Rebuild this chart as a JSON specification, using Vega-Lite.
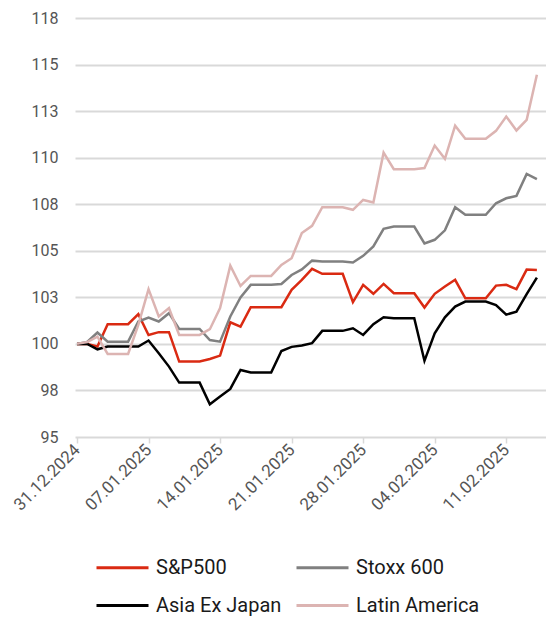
{
  "$schema": "https://vega.github.io/schema/vega-lite/v6.json",
  "width": 471,
  "height": 419,
  "autosize": {"type": "none"},
  "padding": {"left": 75, "top": 18, "right": 0, "bottom": 184},
  "background": "white",
  "config": {
    "view": {"stroke": null},
    "font": "Roboto"
  },
  "data": {"values": [
    {"date":"2024-12-31","series":"S&P500","value":100},
    {"date":"2025-01-01","series":"S&P500","value":100},
    {"date":"2025-01-02","series":"S&P500","value":99.86},
    {"date":"2025-01-03","series":"S&P500","value":101.06},
    {"date":"2025-01-04","series":"S&P500","value":101.06},
    {"date":"2025-01-05","series":"S&P500","value":101.06},
    {"date":"2025-01-06","series":"S&P500","value":101.6},
    {"date":"2025-01-07","series":"S&P500","value":100.48},
    {"date":"2025-01-08","series":"S&P500","value":100.63},
    {"date":"2025-01-09","series":"S&P500","value":100.63},
    {"date":"2025-01-10","series":"S&P500","value":99.05},
    {"date":"2025-01-11","series":"S&P500","value":99.05},
    {"date":"2025-01-12","series":"S&P500","value":99.05},
    {"date":"2025-01-13","series":"S&P500","value":99.19},
    {"date":"2025-01-14","series":"S&P500","value":99.37},
    {"date":"2025-01-15","series":"S&P500","value":101.16},
    {"date":"2025-01-16","series":"S&P500","value":100.93},
    {"date":"2025-01-17","series":"S&P500","value":101.97},
    {"date":"2025-01-18","series":"S&P500","value":101.97},
    {"date":"2025-01-19","series":"S&P500","value":101.97},
    {"date":"2025-01-20","series":"S&P500","value":101.97},
    {"date":"2025-01-21","series":"S&P500","value":102.9},
    {"date":"2025-01-22","series":"S&P500","value":103.44},
    {"date":"2025-01-23","series":"S&P500","value":104.03},
    {"date":"2025-01-24","series":"S&P500","value":103.76},
    {"date":"2025-01-25","series":"S&P500","value":103.76},
    {"date":"2025-01-26","series":"S&P500","value":103.76},
    {"date":"2025-01-27","series":"S&P500","value":102.24},
    {"date":"2025-01-28","series":"S&P500","value":103.17},
    {"date":"2025-01-29","series":"S&P500","value":102.69},
    {"date":"2025-01-30","series":"S&P500","value":103.22},
    {"date":"2025-01-31","series":"S&P500","value":102.72},
    {"date":"2025-02-01","series":"S&P500","value":102.72},
    {"date":"2025-02-02","series":"S&P500","value":102.72},
    {"date":"2025-02-03","series":"S&P500","value":101.95},
    {"date":"2025-02-04","series":"S&P500","value":102.69},
    {"date":"2025-02-05","series":"S&P500","value":103.08},
    {"date":"2025-02-06","series":"S&P500","value":103.44},
    {"date":"2025-02-07","series":"S&P500","value":102.45},
    {"date":"2025-02-08","series":"S&P500","value":102.45},
    {"date":"2025-02-09","series":"S&P500","value":102.45},
    {"date":"2025-02-10","series":"S&P500","value":103.13},
    {"date":"2025-02-11","series":"S&P500","value":103.17},
    {"date":"2025-02-12","series":"S&P500","value":102.94},
    {"date":"2025-02-13","series":"S&P500","value":103.99},
    {"date":"2025-02-14","series":"S&P500","value":103.97},

    {"date":"2024-12-31","series":"Stoxx 600","value":100},
    {"date":"2025-01-01","series":"Stoxx 600","value":100.1},
    {"date":"2025-01-02","series":"Stoxx 600","value":100.61},
    {"date":"2025-01-03","series":"Stoxx 600","value":100.12},
    {"date":"2025-01-04","series":"Stoxx 600","value":100.12},
    {"date":"2025-01-05","series":"Stoxx 600","value":100.12},
    {"date":"2025-01-06","series":"Stoxx 600","value":101.2},
    {"date":"2025-01-07","series":"Stoxx 600","value":101.41},
    {"date":"2025-01-08","series":"Stoxx 600","value":101.2},
    {"date":"2025-01-09","series":"Stoxx 600","value":101.65},
    {"date":"2025-01-10","series":"Stoxx 600","value":100.8},
    {"date":"2025-01-11","series":"Stoxx 600","value":100.8},
    {"date":"2025-01-12","series":"Stoxx 600","value":100.8},
    {"date":"2025-01-13","series":"Stoxx 600","value":100.21},
    {"date":"2025-01-14","series":"Stoxx 600","value":100.12},
    {"date":"2025-01-15","series":"Stoxx 600","value":101.47},
    {"date":"2025-01-16","series":"Stoxx 600","value":102.49},
    {"date":"2025-01-17","series":"Stoxx 600","value":103.17},
    {"date":"2025-01-18","series":"Stoxx 600","value":103.17},
    {"date":"2025-01-19","series":"Stoxx 600","value":103.17},
    {"date":"2025-01-20","series":"Stoxx 600","value":103.22},
    {"date":"2025-01-21","series":"Stoxx 600","value":103.7},
    {"date":"2025-01-22","series":"Stoxx 600","value":104.0},
    {"date":"2025-01-23","series":"Stoxx 600","value":104.47},
    {"date":"2025-01-24","series":"Stoxx 600","value":104.42},
    {"date":"2025-01-25","series":"Stoxx 600","value":104.42},
    {"date":"2025-01-26","series":"Stoxx 600","value":104.42},
    {"date":"2025-01-27","series":"Stoxx 600","value":104.37},
    {"date":"2025-01-28","series":"Stoxx 600","value":104.73},
    {"date":"2025-01-29","series":"Stoxx 600","value":105.23},
    {"date":"2025-01-30","series":"Stoxx 600","value":106.18},
    {"date":"2025-01-31","series":"Stoxx 600","value":106.3},
    {"date":"2025-02-01","series":"Stoxx 600","value":106.3},
    {"date":"2025-02-02","series":"Stoxx 600","value":106.3},
    {"date":"2025-02-03","series":"Stoxx 600","value":105.39},
    {"date":"2025-02-04","series":"Stoxx 600","value":105.59},
    {"date":"2025-02-05","series":"Stoxx 600","value":106.1},
    {"date":"2025-02-06","series":"Stoxx 600","value":107.34},
    {"date":"2025-02-07","series":"Stoxx 600","value":106.93},
    {"date":"2025-02-08","series":"Stoxx 600","value":106.93},
    {"date":"2025-02-09","series":"Stoxx 600","value":106.93},
    {"date":"2025-02-10","series":"Stoxx 600","value":107.55},
    {"date":"2025-02-11","series":"Stoxx 600","value":107.82},
    {"date":"2025-02-12","series":"Stoxx 600","value":107.95},
    {"date":"2025-02-13","series":"Stoxx 600","value":109.13},
    {"date":"2025-02-14","series":"Stoxx 600","value":108.85},

    {"date":"2024-12-31","series":"Asia Ex Japan","value":100},
    {"date":"2025-01-01","series":"Asia Ex Japan","value":100},
    {"date":"2025-01-02","series":"Asia Ex Japan","value":99.71},
    {"date":"2025-01-03","series":"Asia Ex Japan","value":99.86},
    {"date":"2025-01-04","series":"Asia Ex Japan","value":99.86},
    {"date":"2025-01-05","series":"Asia Ex Japan","value":99.86},
    {"date":"2025-01-06","series":"Asia Ex Japan","value":99.86},
    {"date":"2025-01-07","series":"Asia Ex Japan","value":100.18},
    {"date":"2025-01-08","series":"Asia Ex Japan","value":99.5},
    {"date":"2025-01-09","series":"Asia Ex Japan","value":98.78},
    {"date":"2025-01-10","series":"Asia Ex Japan","value":97.92},
    {"date":"2025-01-11","series":"Asia Ex Japan","value":97.92},
    {"date":"2025-01-12","series":"Asia Ex Japan","value":97.92},
    {"date":"2025-01-13","series":"Asia Ex Japan","value":96.76},
    {"date":"2025-01-14","series":"Asia Ex Japan","value":97.17},
    {"date":"2025-01-15","series":"Asia Ex Japan","value":97.58},
    {"date":"2025-01-16","series":"Asia Ex Japan","value":98.6},
    {"date":"2025-01-17","series":"Asia Ex Japan","value":98.46},
    {"date":"2025-01-18","series":"Asia Ex Japan","value":98.46},
    {"date":"2025-01-19","series":"Asia Ex Japan","value":98.46},
    {"date":"2025-01-20","series":"Asia Ex Japan","value":99.62},
    {"date":"2025-01-21","series":"Asia Ex Japan","value":99.84},
    {"date":"2025-01-22","series":"Asia Ex Japan","value":99.91},
    {"date":"2025-01-23","series":"Asia Ex Japan","value":100.04},
    {"date":"2025-01-24","series":"Asia Ex Japan","value":100.7},
    {"date":"2025-01-25","series":"Asia Ex Japan","value":100.7},
    {"date":"2025-01-26","series":"Asia Ex Japan","value":100.7},
    {"date":"2025-01-27","series":"Asia Ex Japan","value":100.84},
    {"date":"2025-01-28","series":"Asia Ex Japan","value":100.48},
    {"date":"2025-01-29","series":"Asia Ex Japan","value":101.06},
    {"date":"2025-01-30","series":"Asia Ex Japan","value":101.43},
    {"date":"2025-01-31","series":"Asia Ex Japan","value":101.38},
    {"date":"2025-02-01","series":"Asia Ex Japan","value":101.38},
    {"date":"2025-02-02","series":"Asia Ex Japan","value":101.38},
    {"date":"2025-02-03","series":"Asia Ex Japan","value":99.09},
    {"date":"2025-02-04","series":"Asia Ex Japan","value":100.57},
    {"date":"2025-02-05","series":"Asia Ex Japan","value":101.43},
    {"date":"2025-02-06","series":"Asia Ex Japan","value":102.0},
    {"date":"2025-02-07","series":"Asia Ex Japan","value":102.27},
    {"date":"2025-02-08","series":"Asia Ex Japan","value":102.27},
    {"date":"2025-02-09","series":"Asia Ex Japan","value":102.27},
    {"date":"2025-02-10","series":"Asia Ex Japan","value":102.08},
    {"date":"2025-02-11","series":"Asia Ex Japan","value":101.57},
    {"date":"2025-02-12","series":"Asia Ex Japan","value":101.73},
    {"date":"2025-02-13","series":"Asia Ex Japan","value":102.67},
    {"date":"2025-02-14","series":"Asia Ex Japan","value":103.56},

    {"date":"2024-12-31","series":"Latin America","value":100},
    {"date":"2025-01-01","series":"Latin America","value":100.1},
    {"date":"2025-01-02","series":"Latin America","value":100.39},
    {"date":"2025-01-03","series":"Latin America","value":99.46},
    {"date":"2025-01-04","series":"Latin America","value":99.46},
    {"date":"2025-01-05","series":"Latin America","value":99.46},
    {"date":"2025-01-06","series":"Latin America","value":101.02},
    {"date":"2025-01-07","series":"Latin America","value":102.94},
    {"date":"2025-01-08","series":"Latin America","value":101.47},
    {"date":"2025-01-09","series":"Latin America","value":101.92},
    {"date":"2025-01-10","series":"Latin America","value":100.48},
    {"date":"2025-01-11","series":"Latin America","value":100.48},
    {"date":"2025-01-12","series":"Latin America","value":100.48},
    {"date":"2025-01-13","series":"Latin America","value":100.79},
    {"date":"2025-01-14","series":"Latin America","value":101.92},
    {"date":"2025-01-15","series":"Latin America","value":104.2},
    {"date":"2025-01-16","series":"Latin America","value":103.11},
    {"date":"2025-01-17","series":"Latin America","value":103.65},
    {"date":"2025-01-18","series":"Latin America","value":103.65},
    {"date":"2025-01-19","series":"Latin America","value":103.65},
    {"date":"2025-01-20","series":"Latin America","value":104.24},
    {"date":"2025-01-21","series":"Latin America","value":104.6},
    {"date":"2025-01-22","series":"Latin America","value":105.95},
    {"date":"2025-01-23","series":"Latin America","value":106.34},
    {"date":"2025-01-24","series":"Latin America","value":107.34},
    {"date":"2025-01-25","series":"Latin America","value":107.34},
    {"date":"2025-01-26","series":"Latin America","value":107.34},
    {"date":"2025-01-27","series":"Latin America","value":107.2},
    {"date":"2025-01-28","series":"Latin America","value":107.73},
    {"date":"2025-01-29","series":"Latin America","value":107.59},
    {"date":"2025-01-30","series":"Latin America","value":110.27},
    {"date":"2025-01-31","series":"Latin America","value":109.38},
    {"date":"2025-02-01","series":"Latin America","value":109.38},
    {"date":"2025-02-02","series":"Latin America","value":109.38},
    {"date":"2025-02-03","series":"Latin America","value":109.44},
    {"date":"2025-02-04","series":"Latin America","value":110.65},
    {"date":"2025-02-05","series":"Latin America","value":109.94},
    {"date":"2025-02-06","series":"Latin America","value":111.72},
    {"date":"2025-02-07","series":"Latin America","value":111.01},
    {"date":"2025-02-08","series":"Latin America","value":111.01},
    {"date":"2025-02-09","series":"Latin America","value":111.01},
    {"date":"2025-02-10","series":"Latin America","value":111.44},
    {"date":"2025-02-11","series":"Latin America","value":112.21},
    {"date":"2025-02-12","series":"Latin America","value":111.46},
    {"date":"2025-02-13","series":"Latin America","value":112.03},
    {"date":"2025-02-14","series":"Latin America","value":114.45}
  ]},
  "mark": {"type": "line", "strokeWidth": 2.5, "strokeJoin": "miter", "clip": true},
  "encoding": {
    "x": {
      "field": "date",
      "type": "temporal",
      "scale": {
        "type": "utc",
        "domain": [
          {"year": 2024, "month": 12, "date": 30, "hours": 19, "minutes": 18, "utc": true},
          {"year": 2025, "month": 2, "date": 14, "hours": 21, "minutes": 24, "utc": true}
        ]
      },
      "axis": {
        "title": null,
        "format": "%d.%m.%Y",
        "values": [
          {"year": 2024, "month": 12, "date": 31, "utc": true},
          {"year": 2025, "month": 1, "date": 7, "utc": true},
          {"year": 2025, "month": 1, "date": 14, "utc": true},
          {"year": 2025, "month": 1, "date": 21, "utc": true},
          {"year": 2025, "month": 1, "date": 28, "utc": true},
          {"year": 2025, "month": 2, "date": 4, "utc": true},
          {"year": 2025, "month": 2, "date": 11, "utc": true}
        ],
        "grid": false,
        "domain": false,
        "ticks": true,
        "tickColor": "#d9d9d9",
        "tickWidth": 1.5,
        "tickSize": 6,
        "labelAngle": -45,
        "labelAlign": "right",
        "labelBaseline": "middle",
        "labelPadding": 4,
        "labelFont": "Roboto",
        "labelFontSize": 17,
        "labelColor": "#555555",
        "labelOverlap": false,
        "labelFlush": false
      }
    },
    "y": {
      "field": "value",
      "type": "quantitative",
      "scale": {"domain": [95, 117.5], "nice": false, "zero": false},
      "axis": {
        "title": null,
        "values": [95, 97.5, 100, 102.5, 105, 107.5, 110, 112.5, 115, 117.5],
        "format": ".0f",
        "grid": true,
        "gridColor": "#d9d9d9",
        "gridWidth": 2,
        "domain": false,
        "ticks": false,
        "labelPadding": 17,
        "labelFont": "Roboto",
        "labelFontSize": 16,
        "labelColor": "#555555"
      }
    },
    "color": {
      "field": "series",
      "type": "nominal",
      "sort": ["S&P500", "Stoxx 600", "Asia Ex Japan", "Latin America"],
      "scale": {
        "domain": ["S&P500", "Stoxx 600", "Asia Ex Japan", "Latin America"],
        "range": ["#da2a12", "#808080", "#000000", "#dcb4b2"]
      },
      "legend": {
        "title": null,
        "orient": "none",
        "direction": "horizontal",
        "legendX": 20,
        "legendY": 522,
        "columns": 2,
        "padding": 0,
        "symbolType": "stroke",
        "symbolSize": 2704,
        "symbolStrokeWidth": 3,
        "labelFont": "Roboto",
        "labelFontSize": 20,
        "labelColor": "#1a1a1a",
        "labelOffset": 6,
        "columnPadding": 8,
        "rowPadding": -6,
        "labelLimit": 300
      }
    }
  }
}
